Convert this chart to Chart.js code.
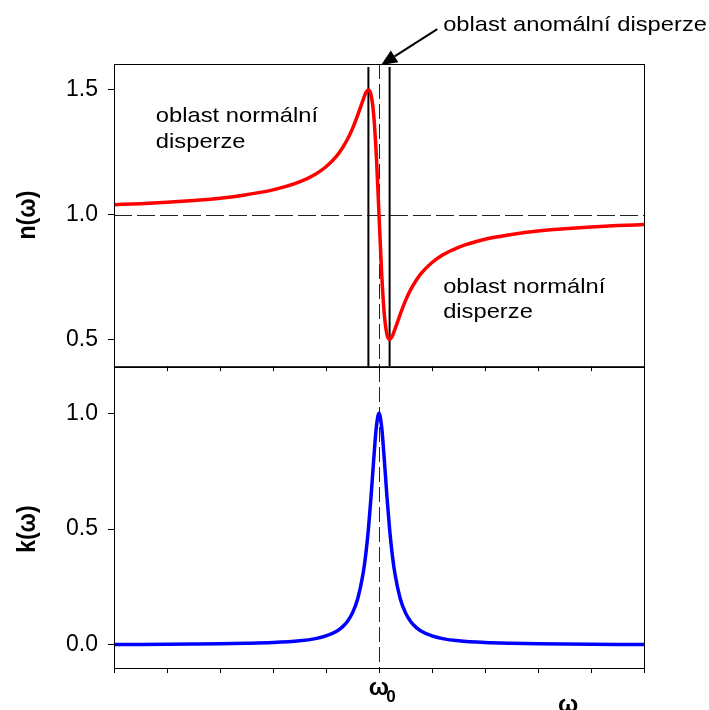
<!DOCTYPE html>
<html>
<head>
<meta charset="utf-8">
<script src="https://cdn.jsdelivr.net/npm/chart.js@4"></script>
<style>
  body { margin: 0; background: #fff; }
  #wrap { position: relative; width: 709px; height: 710px; overflow: hidden; }
  canvas { position: absolute; left: 0; top: 0; }
</style>
</head>
<body>
<div id="wrap">
  <canvas id="kChart" width="709" height="710"></canvas>
  <canvas id="nChart" width="709" height="390"></canvas>
</div>
<script>
// data
const omega = [0, 0.5, 1, 1.5, 2, 2.5, 3, 3.5, 3.8, 4,
  4.2, 4.3, 4.4, 4.5, 4.6, 4.7, 4.75, 4.8, 4.85, 4.9,
  4.95, 5, 5.05, 5.1, 5.15, 5.2, 5.25, 5.3, 5.4, 5.5,
  5.6, 5.7, 5.8, 6, 6.2, 6.5, 7, 7.5, 8, 8.5,
  9, 9.5, 10]
const nOmega = [1.040, 1.044, 1.050, 1.057, 1.066, 1.080, 1.099, 1.131, 1.162, 1.192,
  1.235, 1.264, 1.300, 1.345, 1.400, 1.460, 1.488, 1.500, 1.480, 1.400,
  1.235, 1.000, 0.765, 0.600, 0.520, 0.500, 0.512, 0.540, 0.600, 0.655,
  0.700, 0.736, 0.765, 0.808, 0.838, 0.869, 0.901, 0.920, 0.934, 0.943,
  0.950, 0.956, 0.960]
const kOmega = [0.0016, 0.0020, 0.0025, 0.0033, 0.0044, 0.0064, 0.0099, 0.0175, 0.027, 0.0385,
  0.0588, 0.0755, 0.100, 0.138, 0.200, 0.308, 0.390, 0.500, 0.640, 0.800,
  0.941, 1.000, 0.941, 0.800, 0.640, 0.500, 0.390, 0.308, 0.200, 0.138,
  0.100, 0.0755, 0.0588, 0.0385, 0.027, 0.0175, 0.0099, 0.0064, 0.0044, 0.0033,
  0.0025, 0.0020, 0.0016]

const omegaRange = [0, 10]
const omega0 = 5
const anomalyEdges = [4.8, 5.2]
const nRange = [0.392, 1.604]
const kRange = [-0.1, 1.2]
const nTicks = [0.5, 1.0, 1.5]
const kTicks = [0.0, 0.5, 1.0]
const nReference = 1.0

const family = '"Liberation Sans", Arial, sans-serif'
const font = (size, bold) => `${bold ? 'bold ' : ''}${size}px ${family}`
const stretch = 1.13

const stretchText = (ctx, text, x, y, size, bold) => {
  ctx.save()
  ctx.translate(x, y)
  ctx.scale(stretch, 1)
  ctx.font = font(size, bold)
  ctx.fillStyle = '#000'
  ctx.textAlign = 'left'
  ctx.textBaseline = 'alphabetic'
  ctx.fillText(text, 0, 0)
  ctx.restore()
}

const sideTitle = (ctx, text, x, y) => {
  ctx.save()
  ctx.translate(x, y)
  ctx.rotate(-Math.PI / 2)
  ctx.scale(1, stretch)
  ctx.font = font(23, true)
  ctx.fillStyle = '#000'
  ctx.textAlign = 'center'
  ctx.textBaseline = 'middle'
  ctx.fillText(text, 0, 0)
  ctx.restore()
}

const vline = (ctx, x, top, bottom, width, dash, color) => {
  ctx.save()
  ctx.beginPath()
  ctx.setLineDash(dash)
  ctx.lineWidth = width
  ctx.strokeStyle = color
  ctx.moveTo(x, top)
  ctx.lineTo(x, bottom)
  ctx.stroke()
  ctx.restore()
}

const frame = (chart) => {
  const { ctx, chartArea: a } = chart
  ctx.save()
  ctx.lineWidth = 1
  ctx.strokeStyle = '#000'
  ctx.strokeRect(a.left + 0.5, a.top + 0.5, a.right - a.left, a.bottom - a.top)
  ctx.restore()
}

const drawArrow = (ctx, x1, y1, x2, y2) => {
  const ang = Math.atan2(y2 - y1, x2 - x1)
  const c = Math.cos(ang), s = Math.sin(ang)
  const head = 16, half = 7
  ctx.save()
  ctx.strokeStyle = '#000'
  ctx.fillStyle = '#000'
  ctx.lineWidth = 2
  ctx.beginPath()
  ctx.moveTo(x1, y1)
  ctx.lineTo(x2 - head * c, y2 - head * s)
  ctx.stroke()
  ctx.beginPath()
  ctx.moveTo(x2, y2)
  ctx.lineTo(x2 - head * c + half * s, y2 - head * s - half * c)
  ctx.lineTo(x2 - head * c - half * s, y2 - head * s + half * c)
  ctx.closePath()
  ctx.fill()
  ctx.restore()
}

const nPlugin = {
  id: 'nExtras',
  beforeDatasetsDraw(chart) {
    const { ctx, chartArea: a, scales: { x, y } } = chart
    // n = 1 reference
    ctx.save()
    ctx.beginPath()
    ctx.setLineDash([18, 5])
    ctx.lineWidth = 1
    ctx.strokeStyle = '#222'
    ctx.moveTo(a.left, Math.round(y.getPixelForValue(nReference)) + 0.5)
    ctx.lineTo(a.right, Math.round(y.getPixelForValue(nReference)) + 0.5)
    ctx.stroke()
    ctx.restore()
    vline(ctx, Math.round(x.getPixelForValue(omega0)) + 0.5, a.top, a.bottom, 1, [15, 5], '#222')
    anomalyEdges.forEach((e) => vline(ctx, x.getPixelForValue(e), a.top + 3, a.bottom, 2, [], '#000'))
  },
  afterDraw(chart) {
    const { ctx, chartArea: a, scales: { x, y } } = chart
    frame(chart)
    stretchText(ctx, 'oblast normální', x.getPixelForValue(0.79), y.getPixelForValue(1.372), 21)
    stretchText(ctx, 'disperze', x.getPixelForValue(0.79), y.getPixelForValue(1.268), 21)
    stretchText(ctx, 'oblast normální', x.getPixelForValue(6.21), y.getPixelForValue(0.684), 21)
    stretchText(ctx, 'disperze', x.getPixelForValue(6.21), y.getPixelForValue(0.584), 21)
    stretchText(ctx, 'oblast anomální disperze', x.getPixelForValue(6.21), y.getPixelForValue(1.736), 21)
    drawArrow(ctx, x.getPixelForValue(6.1), y.getPixelForValue(1.744), x.getPixelForValue(5.04), a.top + 1)
    sideTitle(ctx, 'n(ω)', 28, (a.top + a.bottom) / 2)
  },
}

const kPlugin = {
  id: 'kExtras',
  beforeDatasetsDraw(chart) {
    const { ctx, chartArea: a, scales: { x } } = chart
    vline(ctx, Math.round(x.getPixelForValue(omega0)) + 0.5, a.top, a.bottom, 1, [15, 5], '#222')
  },
  afterDraw(chart) {
    const { ctx, chartArea: a, scales: { x, y } } = chart
    frame(chart)
    const cx = x.getPixelForValue(omega0)
    ctx.save()
    ctx.fillStyle = '#000'
    ctx.textAlign = 'center'
    ctx.textBaseline = 'alphabetic'
    ctx.font = font(24, true)
    ctx.fillText('ω', cx, a.bottom + 27)
    ctx.font = font(17, true)
    ctx.fillText('0', cx + 12, a.bottom + 34)
    ctx.font = font(24, true)
    ctx.fillText('ω', x.getPixelForValue(8.57), a.bottom + 44)
    ctx.restore()
    sideTitle(ctx, 'k(ω)', 28, y.getPixelForValue(0.5))
  },
}

const xAxis = (height) => ({
  type: 'linear',
  min: omegaRange[0],
  max: omegaRange[1],
  ticks: { stepSize: 1, display: false },
  grid: { drawOnChartArea: false, drawTicks: true, tickLength: 5, color: '#000' },
  border: { display: false },
  afterFit: (scale) => { scale.height = height },
})

const yAxis = (range, tickValues) => ({
  type: 'linear',
  min: range[0],
  max: range[1],
  afterBuildTicks: (scale) => { scale.ticks = tickValues.map((v) => ({ value: v })) },
  ticks: {
    color: '#000',
    padding: 10,
    font: { family, size: 23 },
    callback: (v) => Number(v).toFixed(1),
  },
  grid: { drawOnChartArea: false, drawTicks: true, tickLength: 6, color: '#000' },
  border: { display: false },
  afterFit: (scale) => { scale.width = 114 },
})

const toPoints = (ys) => omega.map((w, i) => ({ x: w, y: ys[i] }))

const nChart = new Chart(document.getElementById('nChart'), {
  type: 'line',
  data: {
    datasets: [
      {
        label: 'n(ω)',
        data: toPoints(nOmega),
        borderColor: '#ff0000',
        borderWidth: 3.5,
        pointRadius: 0,
        cubicInterpolationMode: 'monotone',
      },
    ],
  },
  options: {
    responsive: false,
    animation: false,
    layout: { padding: { top: 64, right: 65, left: 0, bottom: 0 } },
    plugins: { legend: { display: false }, tooltip: { enabled: false } },
    scales: { x: xAxis(23), y: yAxis(nRange, nTicks) },
  },
  plugins: [nPlugin],
})

const kChart = new Chart(document.getElementById('kChart'), {
  type: 'line',
  data: {
    datasets: [
      {
        label: 'k(ω)',
        data: toPoints(kOmega),
        borderColor: '#0000ff',
        borderWidth: 3.5,
        pointRadius: 0,
        cubicInterpolationMode: 'monotone',
      },
    ],
  },
  options: {
    responsive: false,
    animation: false,
    layout: { padding: { top: 367, right: 65, left: 0, bottom: 0 } },
    plugins: { legend: { display: false }, tooltip: { enabled: false } },
    scales: { x: xAxis(42), y: yAxis(kRange, kTicks) },
  },
  plugins: [kPlugin],
})
</script>
</body>
</html>
